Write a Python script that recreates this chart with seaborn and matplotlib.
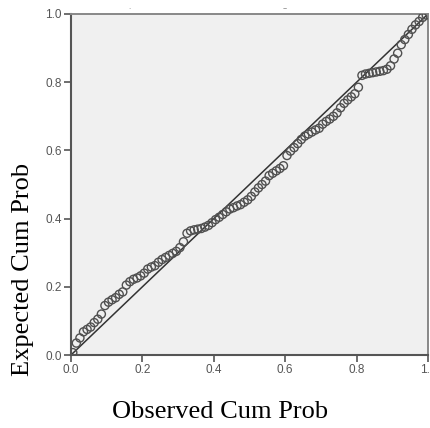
import numpy as np
import pandas as pd
import matplotlib
matplotlib.use("Agg")
import matplotlib.pyplot as plt
import seaborn as sns

observed_cum_prob = [
    0.005, 0.015, 0.025, 0.035, 0.045, 0.055, 0.065, 0.075, 0.085, 0.095,
    0.105, 0.115, 0.125, 0.135, 0.145, 0.155, 0.165, 0.175, 0.185, 0.195,
    0.205, 0.215, 0.225, 0.235, 0.245, 0.255, 0.265, 0.275, 0.285, 0.295,
    0.305, 0.315, 0.325, 0.335, 0.345, 0.355, 0.365, 0.375, 0.385, 0.395,
    0.405, 0.415, 0.425, 0.435, 0.445, 0.455, 0.465, 0.475, 0.485, 0.495,
    0.505, 0.515, 0.525, 0.535, 0.545, 0.555, 0.565, 0.575, 0.585, 0.595,
    0.605, 0.615, 0.625, 0.635, 0.645, 0.655, 0.665, 0.675, 0.685, 0.695,
    0.705, 0.715, 0.725, 0.735, 0.745, 0.755, 0.765, 0.775, 0.785, 0.795,
    0.805, 0.815, 0.825, 0.835, 0.845, 0.855, 0.865, 0.875, 0.885, 0.895,
    0.905, 0.915, 0.925, 0.935, 0.945, 0.955, 0.965, 0.975, 0.985, 0.995,
]
expected_cum_prob = [
    0.007, 0.035, 0.050, 0.068, 0.075, 0.082, 0.095, 0.105, 0.120, 0.145,
    0.155, 0.162, 0.168, 0.178, 0.185, 0.205, 0.215, 0.222, 0.226, 0.232,
    0.240, 0.252, 0.258, 0.262, 0.272, 0.280, 0.286, 0.292, 0.298, 0.304,
    0.315, 0.332, 0.357, 0.364, 0.367, 0.369, 0.371, 0.375, 0.380, 0.388,
    0.397, 0.404, 0.412, 0.420, 0.428, 0.432, 0.437, 0.441, 0.448, 0.455,
    0.465, 0.478, 0.490, 0.500, 0.510, 0.526, 0.533, 0.540, 0.547, 0.555,
    0.585, 0.598, 0.608, 0.620, 0.632, 0.642, 0.648, 0.654, 0.660, 0.665,
    0.677, 0.685, 0.692, 0.700, 0.710, 0.725, 0.738, 0.748, 0.757, 0.766,
    0.785, 0.820, 0.824, 0.826, 0.828, 0.830, 0.832, 0.834, 0.838, 0.848,
    0.868, 0.885, 0.910, 0.925, 0.940, 0.955, 0.968, 0.978, 0.990, 0.997,
]
reference_line = [0.0, 1.0]
tick_values = [0.0, 0.2, 0.4, 0.6, 0.8, 1.0]
tick_labels = ["0.0", "0.2", "0.4", "0.6", "0.8", "1.0"]

sns.set_style("white", {"axes.facecolor": "#f0f0f0"})

fig = plt.figure(figsize=(4.30, 4.28), dpi=100)
ax = fig.add_axes([71 / 430, 1 - 355 / 428, 357 / 430, 341 / 428])

df = pd.DataFrame({"obs": observed_cum_prob, "exp": expected_cum_prob})
ref = pd.DataFrame({"x": reference_line, "y": reference_line})

sns.lineplot(data=ref, x="x", y="y", ax=ax, color="#333333", linewidth=1.1, zorder=2)
sns.scatterplot(data=df, x="obs", y="exp", ax=ax, marker="o", s=34,
                facecolor="none", edgecolor="#505050", linewidth=1.0, zorder=3)

ax.set_xlim(0, 1)
ax.set_ylim(0, 1)
ax.set_xticks(tick_values)
ax.set_xticklabels(tick_labels)
ax.set_yticks(tick_values)
ax.set_yticklabels(tick_labels)
ax.tick_params(axis="both", direction="out", length=5, width=1.2, color="#555555",
               labelsize=8.5, labelcolor="#555555", pad=1.5)
for lab in ax.get_xticklabels() + ax.get_yticklabels():
    lab.set_fontfamily("Liberation Sans")
ax.tick_params(left=True, bottom=True)

for side in ["left", "bottom"]:
    ax.spines[side].set_color("#555555")
    ax.spines[side].set_linewidth(1.5)
for side in ["top", "right"]:
    ax.spines[side].set_color("#888888")
    ax.spines[side].set_linewidth(1.4)

ax.set_xlabel("Observed Cum Prob", fontfamily="Liberation Serif", fontsize=19,
              color="black", va="center")
ax.xaxis.set_label_coords((220 - 71) / 357, (355 - 412) / 341)
ax.set_ylabel("Expected Cum Prob", fontfamily="Liberation Serif", fontsize=19,
              color="black", va="center")
ax.yaxis.set_label_coords((22.5 - 71) / 357, (355 - 269) / 341)

fig.text(129 / 430, 1 - 9 / 428, "·", fontsize=5, color="#888888", ha="center", va="center")
fig.text(285 / 430, 1 - 9 / 428, "–", fontsize=6, color="#888888", ha="center", va="center")

fig.savefig("out.png", dpi=100)
